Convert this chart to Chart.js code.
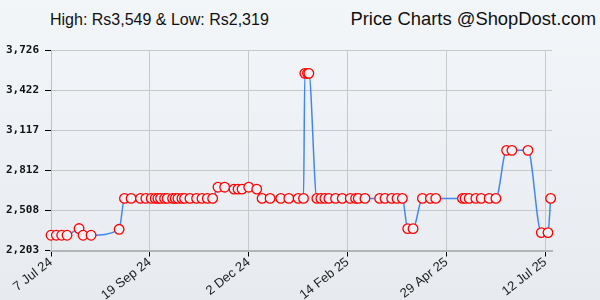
<!DOCTYPE html>
<html>
<head>
<meta charset="utf-8">
<script src="https://cdn.jsdelivr.net/npm/chart.js@4"></script>
<style>
  html, body { margin: 0; padding: 0; }
  body {
    width: 600px; height: 300px; overflow: hidden; position: relative;
    background: linear-gradient(#f3f6f9, #e7ebef);
    font-family: "Liberation Sans", Arial, sans-serif;
  }
  .hdr { position: absolute; color: #111; line-height: 1; white-space: nowrap; }
  #hilo { left: 50px; top: 11.5px; font-size: 16px; }
  #brand { right: 4px; top: 9.5px; font-size: 18.4px; }
  #wrap { position: absolute; left: 0; top: 0; width: 600px; height: 300px; }
</style>
</head>
<body>
<div class="hdr" id="hilo">High: Rs3,549 &amp; Low: Rs2,319</div>
<div class="hdr" id="brand">Price Charts @ShopDost.com</div>
<div id="wrap"><canvas id="priceChart" width="600" height="300"></canvas></div>
<script>
// days counted from 7 Jul 24
const days = [0, 4, 8, 12, 21, 24, 30, 51, 55, 60, 67, 71, 75, 78, 80, 82, 85, 87, 91, 93, 95, 98, 100, 104,
  109, 113, 117, 121, 125, 130, 137, 140, 143, 148, 154, 158, 164, 172, 178, 185, 189, 190, 192, 193,
  199, 202, 205, 208, 213, 218, 224, 228, 230, 235, 246, 250, 255, 259, 263, 267, 271, 278, 284, 288,
  308, 310, 313, 318, 322, 328, 333, 341, 345, 357, 367, 372, 374];
const prices = [2319, 2319, 2319, 2319, 2370, 2319, 2319, 2364, 2599, 2599, 2599, 2599, 2599, 2599, 2599, 2599,
  2599, 2599, 2599, 2599, 2599, 2599, 2599, 2599, 2599, 2599, 2599, 2599, 2684, 2684, 2669, 2669, 2669, 2684,
  2669, 2599, 2599, 2599, 2599, 2599, 2599, 3549, 3549, 3549, 2599, 2599, 2599, 2599, 2599, 2599, 2599, 2599,
  2599, 2599, 2599, 2599, 2599, 2599, 2599, 2369, 2369, 2599, 2599, 2599, 2599, 2599, 2599, 2599, 2599, 2599,
  2599, 2964, 2964, 2964, 2339, 2339, 2599];
const tickDays = [0, 74, 148, 222, 296, 370];
const tickLabels = ['7 Jul 24', '19 Sep 24', '2 Dec 24', '14 Feb 25', '29 Apr 25', '12 Jul 25'];
const lowPrice = 2319;
const highPrice = 3549;

const yMin = lowPrice * 0.95;
const yMax = highPrice * 1.05;
const bg = '#eef1f5';

new Chart(document.getElementById('priceChart').getContext('2d'), {
  type: 'line',
  data: {
    datasets: [{
      data: days.map((d, i) => ({ x: d, y: prices[i] })),
      borderColor: '#4287f0',
      borderWidth: 1.5,
      cubicInterpolationMode: 'monotone',
      pointRadius: 4.8,
      pointBorderColor: '#ff0000',
      pointBorderWidth: 1.3,
      pointBackgroundColor: bg,
      clip: false
    }]
  },
  options: {
    responsive: false,
    animation: false,
    events: [],
    layout: { padding: { left: 0, right: 48, top: 50, bottom: 0 } },
    plugins: { legend: { display: false }, tooltip: { enabled: false } },
    scales: {
      x: {
        type: 'linear',
        min: 0,
        max: 375,
        afterBuildTicks: (s) => { s.ticks = tickDays.map(v => ({ value: v })); },
        afterFit: (s) => { s.height = 49.5; },
        grid: { color: '#c8c8c8', lineWidth: 1, tickColor: '#000', tickLength: 6 },
        border: { color: '#b4b4b4', width: 2 },
        ticks: {
          autoSkip: false,
          minRotation: 38,
          maxRotation: 38,
          padding: -2,
          color: '#222',
          font: { family: 'Liberation Sans', size: 13 },
          callback: (v) => tickLabels[tickDays.indexOf(v)]
        }
      },
      y: {
        min: yMin,
        max: yMax,
        afterBuildTicks: (s) => {
          const step = (yMax - yMin) / 5;
          s.ticks = [0, 1, 2, 3, 4, 5].map(i => ({ value: yMin + step * i }));
        },
        afterFit: (s) => { s.width = 51; },
        grid: { color: '#c8c8c8', lineWidth: 1, tickColor: '#000', tickLength: 6 },
        border: { color: '#c0c0c0', width: 1 },
        ticks: {
          padding: 6,
          color: '#111',
          font: { family: 'DejaVu Sans Mono', size: 11, weight: 'bold' },
          callback: (v) => Math.round(v).toLocaleString('en-US')
        }
      }
    }
  }
});
</script>
</body>
</html>
